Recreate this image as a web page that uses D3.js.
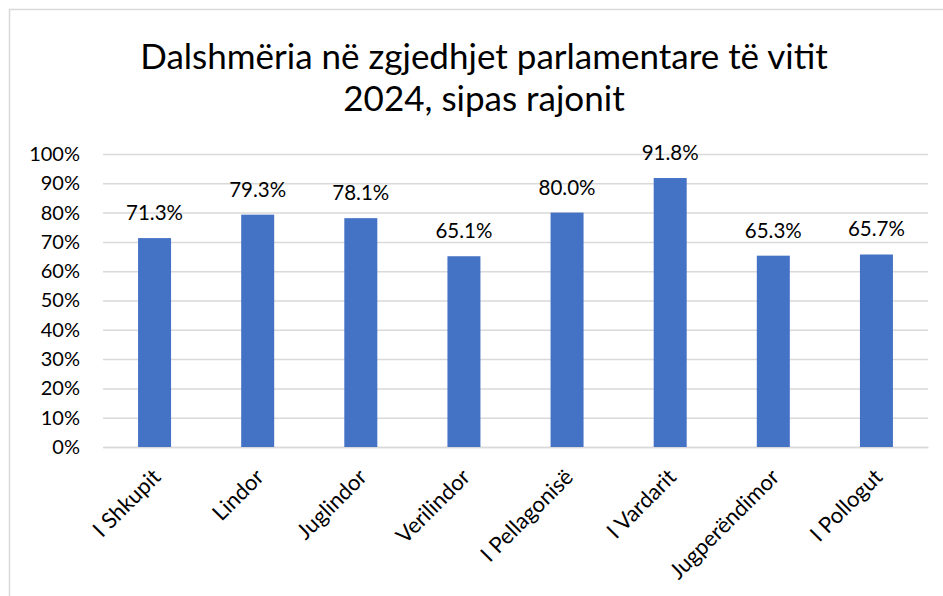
<!DOCTYPE html>
<html>
<head>
<meta charset="utf-8">
<script src="https://cdn.jsdelivr.net/npm/d3@7"></script>
<style>
  body { margin: 0; background: #fff; }
  svg { display: block; font-family: Lato, "Open Sans", sans-serif; }
</style>
</head>
<body>
<svg id="chart" width="943" height="596"></svg>
<script>
// chart data
const regions = ["I Shkupit", "Lindor", "Juglindor", "Verilindor", "I Pellagonisë", "I Vardarit", "Jugperëndimor", "I Pollogut"];
const turnout = [71.3, 79.3, 78.1, 65.1, 80.0, 91.8, 65.3, 65.7];
const yTicks = [0, 10, 20, 30, 40, 50, 60, 70, 80, 90, 100];
const titleLines = ["Dalshmëria në zgjedhjet parlamentare të vitit", "2024, sipas rajonit"];

const winWidth = 943;
const winHeight = 596;
const margin = { top: 154, right: 15, bottom: 149, left: 103 };
const width = 928 - margin.left;
const height = 447 - margin.top;

const svg = d3.select("#chart");

// chart frame (runs off the right/bottom edge in the source)
svg.append("rect")
  .attr("x", 9.5).attr("y", 9.5)
  .attr("width", 1000).attr("height", 1000)
  .attr("fill", "#fff")
  .attr("stroke", "#d9d9d9")
  .attr("stroke-width", 1.5);

// title
svg.append("text")
  .attr("text-anchor", "middle")
  .attr("font-size", 35)
  .attr("fill", "#000")
  .selectAll("tspan")
  .data(titleLines)
  .join("tspan")
  .attr("x", 484)
  .attr("y", (d, i) => 69 + i * 42)
  .text(d => d);

/* Scales */
const x = d3.scaleBand().domain(regions).range([0, width]).paddingInner(0.68).paddingOuter(0.34);
const y = d3.scaleLinear().domain([0, 100]).range([height, 0]);

const g = svg.append("g").attr("transform", `translate(${margin.left},${margin.top})`);

/* Axes */
const yAxis = d3.axisLeft(y)
  .tickValues(yTicks)
  .tickSize(-width)
  .tickPadding(23)
  .tickFormat(d => d + "%");

g.append("g")
  .attr("class", "y axis")
  .call(yAxis)
  .call(s => s.select(".domain").remove())
  .call(s => s.selectAll(".tick line").attr("stroke", "#d9d9d9").attr("stroke-width", 1.5))
  .call(s => s.selectAll(".tick text")
    .attr("font-size", 20)
    .attr("font-family", "Lato, sans-serif")
    .attr("fill", "#000"));

const xAxis = d3.axisBottom(x).tickSize(0).tickPadding(0);

g.append("g")
  .attr("class", "x axis")
  .attr("transform", `translate(0,${height})`)
  .call(xAxis)
  .call(s => s.select(".domain").attr("stroke", "#d9d9d9").attr("stroke-width", 1.5))
  .call(s => s.selectAll(".tick text")
    .attr("font-size", 22)
    .attr("font-family", "Lato, sans-serif")
    .attr("fill", "#000")
    .attr("text-anchor", "end")
    .attr("y", 0)
    .attr("dy", "0.35em")
    .attr("transform", "translate(2,26) rotate(-45)"));

// bars
g.selectAll("rect.bar")
  .data(turnout)
  .join("rect")
  .attr("class", "bar")
  .attr("x", (d, i) => x(regions[i]))
  .attr("y", d => y(d))
  .attr("width", x.bandwidth())
  .attr("height", d => height - y(d))
  .attr("fill", "#4472c4");

// value labels
g.selectAll("text.value")
  .data(turnout)
  .join("text")
  .attr("class", "value")
  .attr("x", (d, i) => x(regions[i]) + x.bandwidth() / 2)
  .attr("y", d => y(d) - 18)
  .attr("text-anchor", "middle")
  .attr("font-size", 20.5)
  .attr("fill", "#000")
  .text(d => d.toFixed(1) + "%");
</script>
</body>
</html>
